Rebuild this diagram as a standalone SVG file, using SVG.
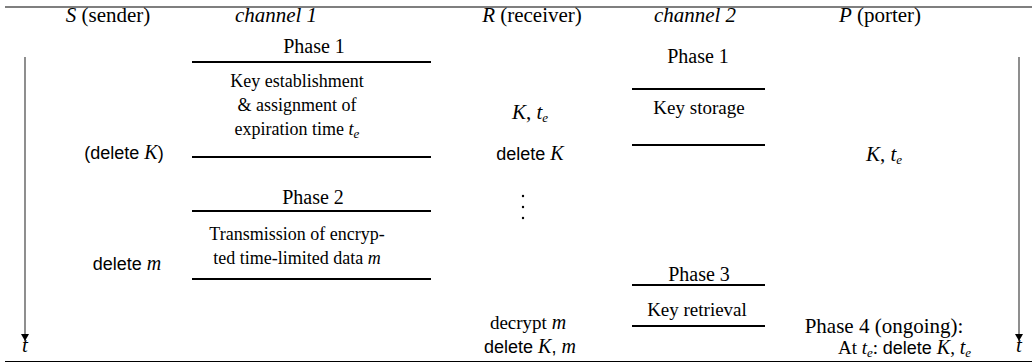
<svg xmlns="http://www.w3.org/2000/svg" width="1032" height="364" viewBox="0 0 1032 364">
<style>
.rule{stroke:#000;stroke-width:1.2}
.ph{stroke:#000;stroke-width:2}
.hd{font-family:"Liberation Serif",serif;font-size:21px;fill:#000}
.ser{font-family:"Liberation Serif",serif;font-size:18px;fill:#000}
.mid{font-family:"Liberation Serif",serif;font-size:19px;fill:#000}
.big{font-family:"Liberation Serif",serif;font-size:20px;fill:#000}
.sans{font-family:"Liberation Sans",sans-serif;font-size:18px;fill:#000}
.it{font-family:"Liberation Serif",serif;font-style:italic}
.sub{font-family:"Liberation Serif",serif;font-style:italic;font-size:13px}
.arr{stroke:#444;stroke-width:1.2;fill:none}
</style>
<defs>
<marker id="ah" markerWidth="8" markerHeight="10" refX="7" refY="5" orient="auto" markerUnits="userSpaceOnUse">
<path d="M0,1 L7,5 L0,9 Z" fill="#000"/>
</marker>
</defs>
<rect width="1032" height="364" fill="#fff"/>
<line class="rule" x1="5" y1="7" x2="1032" y2="7"/>
<line class="rule" x1="5" y1="361.5" x2="1032" y2="361.5"/>

<g id="header" class="hd" text-anchor="middle">
<text x="108" y="22"><tspan class="it">S</tspan> (sender)</text>
<text x="276" y="22" class="it">channel 1</text>
<text x="532" y="22"><tspan class="it">R</tspan> (receiver)</text>
<text x="695" y="22" class="it">channel 2</text>
<text x="880" y="22"><tspan class="it">P</tspan> (porter)</text>
</g>

<g id="connectors">
<line class="arr" x1="25" y1="57" x2="25" y2="341" marker-end="url(#ah)"/>
<line class="arr" x1="1019" y1="57" x2="1019" y2="341" marker-end="url(#ah)"/>
<text x="25" y="352" class="hd it" text-anchor="middle">t</text>
<text x="1019" y="352" class="hd it" text-anchor="middle">t</text>
</g>

<g id="sender">
<text x="124" y="159" class="sans" text-anchor="middle">(delete <tspan class="it" font-size="20">K</tspan>)</text>
<text x="127" y="270" class="sans" text-anchor="middle">delete <tspan class="it" font-size="20">m</tspan></text>
</g>

<g id="phase1-ch1">
<text x="314" y="53" class="big" text-anchor="middle">Phase 1</text>
<line class="ph" x1="192" y1="62" x2="431" y2="62"/>
<g class="ser" text-anchor="middle">
<text x="297" y="87">Key establishment</text>
<text x="297" y="111">&amp; assignment of</text>
<text x="297" y="135">expiration time <tspan class="it">t</tspan><tspan class="sub" dy="3">e</tspan></text>
</g>
<line class="ph" x1="192" y1="157" x2="431" y2="157"/>
</g>

<g id="phase2-ch1">
<text x="313" y="204" class="big" text-anchor="middle">Phase 2</text>
<line class="ph" x1="192" y1="211" x2="431" y2="211"/>
<g class="ser" text-anchor="middle">
<text x="297" y="240">Transmission of encryp-</text>
<text x="297" y="264">ted time-limited data <tspan class="it">m</tspan></text>
</g>
<line class="ph" x1="192" y1="279" x2="431" y2="279"/>
</g>

<g id="receiver" text-anchor="middle">
<text x="530" y="119" class="hd"><tspan class="it">K</tspan>, <tspan class="it">t</tspan><tspan class="sub" dy="3">e</tspan></text>
<text x="530" y="160" class="sans">delete <tspan class="it" font-size="20">K</tspan></text>
<circle cx="523" cy="196" r="1.2" fill="#000"/>
<circle cx="523" cy="207" r="1.2" fill="#000"/>
<circle cx="523" cy="218" r="1.2" fill="#000"/>
<text x="528" y="329" class="mid">decrypt <tspan class="it" font-size="20">m</tspan></text>
<text x="530" y="353" class="sans">delete <tspan class="it" font-size="20">K</tspan>, <tspan class="it" font-size="20">m</tspan></text>
</g>

<g id="phase1-ch2" text-anchor="middle">
<text x="698" y="63" class="big">Phase 1</text>
<line class="ph" x1="632" y1="89" x2="765" y2="89"/>
<text x="699" y="114" class="mid">Key storage</text>
<line class="ph" x1="632" y1="145" x2="765" y2="145"/>
</g>

<g id="phase3-ch2" text-anchor="middle">
<text x="699" y="281" class="big">Phase 3</text>
<line class="ph" x1="632" y1="285" x2="765" y2="285"/>
<text x="697" y="316" class="mid">Key retrieval</text>
<line class="ph" x1="632" y1="326" x2="765" y2="326"/>
</g>

<g id="porter">
<text x="884" y="161" class="hd" text-anchor="middle"><tspan class="it">K</tspan>, <tspan class="it">t</tspan><tspan class="sub" dy="3">e</tspan></text>
<text x="884" y="333" class="hd" text-anchor="middle">Phase 4 (ongoing):</text>
<text x="971" y="354" class="mid" text-anchor="end">At <tspan class="it">t</tspan><tspan class="sub" dy="3">e</tspan><tspan dy="-3">: </tspan><tspan class="sans" font-size="19">delete </tspan><tspan class="it" font-size="20">K</tspan>, <tspan class="it" font-size="20">t</tspan><tspan class="sub" dy="3">e</tspan></text>
</g>
</svg>
